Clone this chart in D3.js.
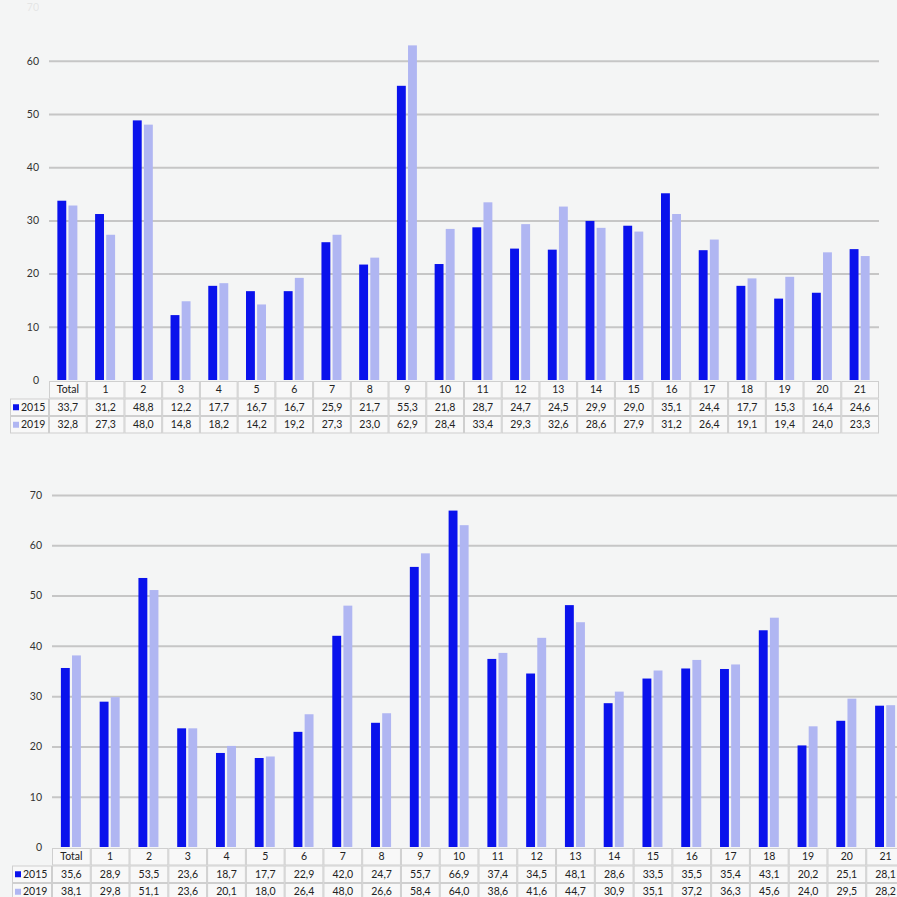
<!DOCTYPE html>
<html><head><meta charset="utf-8">
<script src="https://cdn.jsdelivr.net/npm/d3@7"></script>
<style>
html,body{margin:0;padding:0;background:#f4f5f5;}
svg{display:block;font-family:Lato,"Open Sans",sans-serif;}
</style></head>
<body>
<svg id="chart" width="897" height="897"></svg>
<script>
const categories = ["Total","1","2","3","4","5","6","7","8","9","10","11","12","13","14","15","16","17","18","19","20","21"];
const seriesNames = ["2015","2019"];
const top2015 = [33.7,31.2,48.8,12.2,17.7,16.7,16.7,25.9,21.7,55.3,21.8,28.7,24.7,24.5,29.9,29.0,35.1,24.4,17.7,15.3,16.4,24.6];
const top2019 = [32.8,27.3,48.0,14.8,18.2,14.2,19.2,27.3,23.0,62.9,28.4,33.4,29.3,32.6,28.6,27.9,31.2,26.4,19.1,19.4,24.0,23.3];
const bottom2015 = [35.6,28.9,53.5,23.6,18.7,17.7,22.9,42.0,24.7,55.7,66.9,37.4,34.5,48.1,28.6,33.5,35.5,35.4,43.1,20.2,25.1,28.1];
const bottom2019 = [38.1,29.8,51.1,23.6,20.1,18.0,26.4,48.0,26.6,58.4,64.0,38.6,41.6,44.7,30.9,35.1,37.2,36.3,45.6,24.0,29.5,28.2];
const yTicks = [0,10,20,30,40,50,60,70];

const colors = {"2015":"#0a12ec","2019":"#b0b6f2"};
const svg = d3.select("#chart");
const fmt = v => d3.format(".1f")(v).replace(".", ",");

function panel(cfg){
  const g = svg.append("g");
  const y = d3.scaleLinear().domain([0,70]).range([cfg.y0, cfg.y70]);
  const x = d3.scaleBand().domain(categories).range([cfg.x0, cfg.x1]).padding(0);
  const xs = d3.scaleBand().domain(seriesNames).range([0,20]).paddingInner(0.2);
  const data = [cfg.s2015, cfg.s2019];

  // grid + axis
  const ax = g.append("g").attr("transform", `translate(${cfg.x0},0)`)
    .call(d3.axisLeft(y).tickValues(yTicks).tickSize(-(cfg.gridEnd - cfg.x0)).tickPadding(10).tickFormat(d3.format("d")));
  ax.select(".domain").remove();
  ax.selectAll(".tick line").attr("stroke", "#c6c6c6").attr("stroke-width", 2)
    .attr("display", d => (d === 0 || (d === 70 && cfg.hide70)) ? "none" : null);
  ax.selectAll(".tick text").attr("fill", "#333").attr("font-size", 10.5)
    .attr("font-family", "Lato, sans-serif")
    .attr("opacity", d => (d === 70 && cfg.hide70) ? 0.08 : 1);

  // bars
  seriesNames.forEach((s, si) => {
    g.append("g").selectAll("rect").data(data[si]).join("rect")
      .attr("x", (d,i) => x(categories[i]) + x.bandwidth()/2 - 10.5 + xs(s))
      .attr("width", xs.bandwidth())
      .attr("y", d => y(d))
      .attr("height", d => y(0) - y(d))
      .attr("fill", colors[s]);
  });

  // table
  const rh = cfg.rowH;
  const t = g.append("g");
  const cellFill = "#f8f8f8", cellStroke = "#cfcfcf";
  categories.forEach((c,i) => {
    t.append("rect").attr("x", x(c)+0.5).attr("y", cfg.y0+1.5).attr("width", x.bandwidth()-1).attr("height", rh-1)
      .attr("fill", cellFill).attr("stroke", cellStroke);
    t.append("text").attr("x", x(c)+x.bandwidth()/2).attr("y", cfg.y0+1+rh/2).attr("dy","0.35em")
      .attr("text-anchor","middle").attr("font-size",10.5).attr("fill","#222").text(c);
  });
  seriesNames.forEach((s, si) => {
    const ry = cfg.y0 + 1 + rh*(si+1);
    t.append("rect").attr("x", cfg.legX+0.5).attr("y", ry+0.5).attr("width", cfg.x0-cfg.legX-1).attr("height", rh-1)
      .attr("fill", cellFill).attr("stroke", cellStroke);
    t.append("rect").attr("x", cfg.legX+3).attr("y", ry+rh/2-3).attr("width", 6).attr("height", 6).attr("fill", colors[s]);
    t.append("text").attr("x", cfg.legX+11).attr("y", ry+rh/2).attr("dy","0.35em")
      .attr("font-size",10.5).attr("fill","#222").text(s);
    data[si].forEach((v,i) => {
      const c = categories[i];
      t.append("rect").attr("x", x(c)+0.5).attr("y", ry+0.5).attr("width", x.bandwidth()-1).attr("height", rh-1)
        .attr("fill", cellFill).attr("stroke", cellStroke);
      t.append("text").attr("x", x(c)+x.bandwidth()/2).attr("y", ry+rh/2).attr("dy","0.35em")
        .attr("text-anchor","middle").attr("font-size",10.5).attr("fill","#222").text(fmt(v));
    });
  });
}

panel({y0:380, y70:7.6, x0:49, x1:879, gridEnd:879, legX:10, rowH:17.5, s2015:top2015, s2019:top2019, hide70:true});
panel({y0:847, y70:495, x0:52, x1:905, gridEnd:910, legX:12, rowH:17.5, s2015:bottom2015, s2019:bottom2019, hide70:false});
</script>
</body></html>
